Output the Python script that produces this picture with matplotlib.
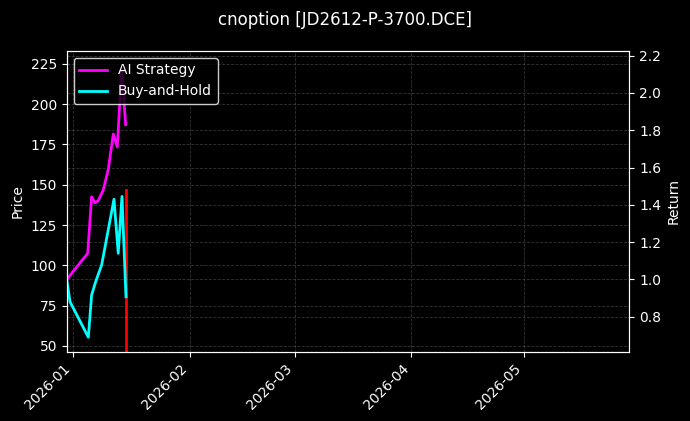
import matplotlib
matplotlib.use("Agg")
import matplotlib.pyplot as plt
import matplotlib.dates as mdates
import pandas as pd

plt.style.use("dark_background")

# data
strat_dates = pd.to_datetime([
    "2025-12-30 06:00", "2026-01-04 20:00", "2026-01-05 21:00", "2026-01-06 18:30",
    "2026-01-07 15:30", "2026-01-08 23:30", "2026-01-10 07:30", "2026-01-11 15:30",
    "2026-01-12 17:00", "2026-01-13 21:00", "2026-01-14 22:30"])
strat_ret = [1.0, 1.14, 1.443, 1.411, 1.422, 1.48, 1.59, 1.78, 1.71, 2.13, 1.83]

bh_dates = pd.to_datetime([
    "2025-12-30 06:00", "2025-12-31 03:00", "2026-01-05 00:00", "2026-01-05 21:00",
    "2026-01-06 23:00", "2026-01-08 13:00", "2026-01-11 20:00", "2026-01-12 23:00",
    "2026-01-13 23:00", "2026-01-15 00:30"])
bh_ret = [1.0, 0.88, 0.69, 0.916, 0.988, 1.077, 1.43, 1.14, 1.445, 0.907]

price_dates = pd.to_datetime(["2026-01-14 22:30", "2026-01-14 22:30"])
price = [45.0, 146.8]

x_start = pd.Timestamp("2025-12-30 06:00")
x_end = pd.Timestamp("2026-05-29 00:00")

fig = plt.figure(figsize=(6.9, 4.21), dpi=100)
ax = fig.add_axes([0.0967, 0.164, 0.8153, 0.715])
ax.plot(price_dates, price, color="red", lw=2)
ax.set_ylim(46.3, 233)
ax.set_ylabel("Price")
ax.grid(True, ls="--", lw=0.6, color="gray", alpha=0.4)

ax2 = ax.twinx()
ax2.plot(strat_dates, strat_ret, color="magenta", lw=2, label="AI Strategy")
ax2.plot(bh_dates, bh_ret, color="cyan", lw=2, label="Buy-and-Hold")
ax2.set_ylim(0.611, 2.225)
ax2.set_ylabel("Return")
ax2.grid(True, ls="--", lw=0.6, color="gray", alpha=0.4)
ax2.legend(loc="upper left", facecolor="black", edgecolor="white")

ax.set_xlim(x_start, x_end)
ax.xaxis.set_major_locator(mdates.MonthLocator())
ax.xaxis.set_major_formatter(mdates.DateFormatter("%Y-%m"))
plt.setp(ax.get_xticklabels(), rotation=45, ha="right")

fig.suptitle("cnoption [JD2612-P-3700.DCE]", y=0.975)
fig.savefig("out.png", dpi=100)
